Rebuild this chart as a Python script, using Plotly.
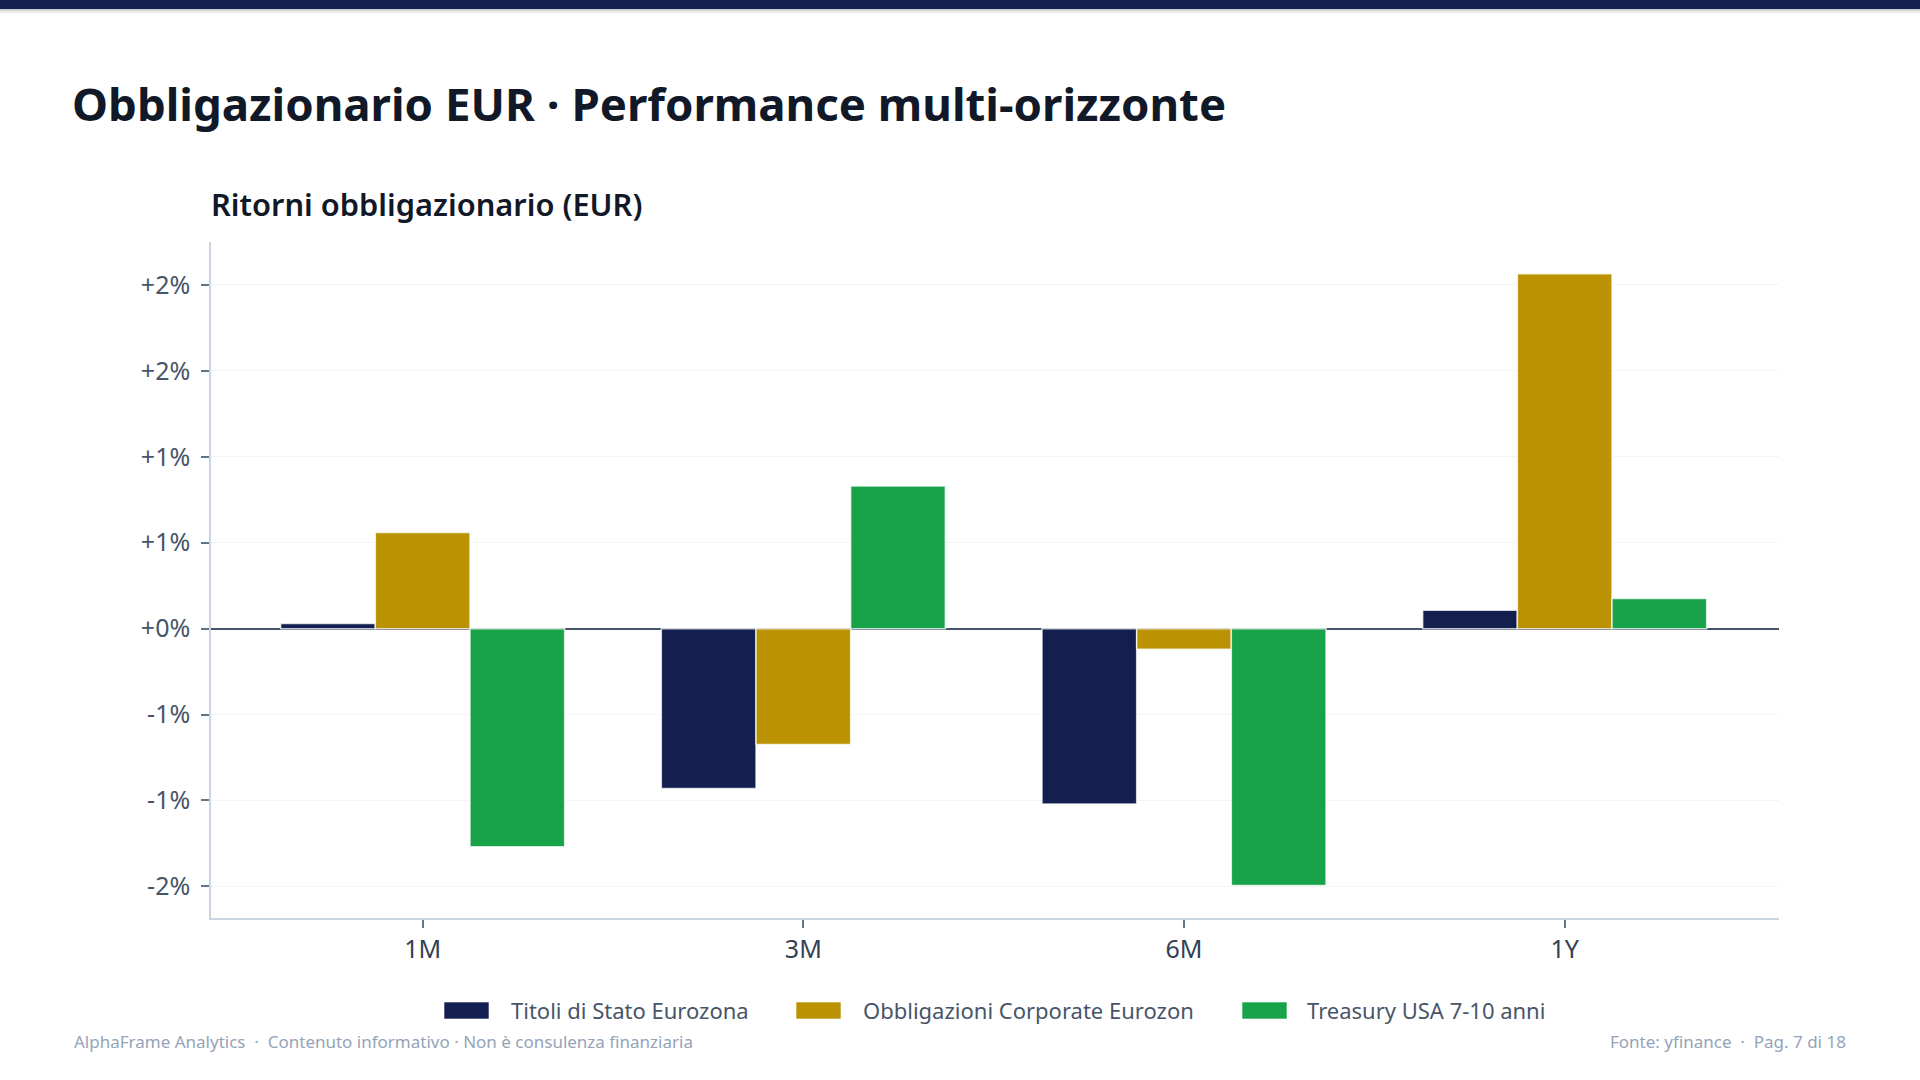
import plotly.graph_objects as go

# ---- data ----
horizons = ["1M", "3M", "6M", "1Y"]
series_names = ["Titoli di Stato Eurozona", "Obbligazioni Corporate Eurozon", "Treasury USA 7-10 anni"]
titoli_stato = [0.03, -0.93, -1.02, 0.107]
corporate = [0.56, -0.675, -0.12, 2.065]
treasury_usa = [-1.27, 0.83, -1.495, 0.176]
series_values = [titoli_stato, corporate, treasury_usa]
series_colors = ["#131F4F", "#BC9205", "#18A34A"]
tick_vals = [-1.5, -1.0, -0.5, 0.0, 0.5, 1.0, 1.5, 2.0]
tick_text = ["-2%", "-1%", "-1%", "+0%", "+1%", "+1%", "+2%", "+2%"]

W, H = 1920, 1080
ML, MR, MT, MB = 211, 141, 242, 162
PW, PH = W - ML - MR, H - MT - MB

def px(x):
    return (x - ML) / PW

def py(y):
    return (H - MB - y) / PH

FONT = "Segoe UI, Noto Sans, Open Sans, sans-serif"

fig = go.Figure()
for name, vals, col in zip(series_names, series_values, series_colors):
    fig.add_trace(go.Bar(
        x=horizons, y=vals, name=name,
        marker=dict(color=col, line=dict(color="rgba(255,255,255,0.75)", width=1.5)),
        showlegend=False,
    ))

shapes = [
    dict(type="rect", xref="paper", yref="paper", x0=px(0), x1=px(W), y0=py(0), y1=py(9),
         fillcolor="#131F4F", line=dict(width=0), layer="above"),
]
for i, op in enumerate([0.22, 0.15, 0.10, 0.06, 0.03]):
    shapes.append(dict(type="rect", xref="paper", yref="paper", x0=px(0), x1=px(W),
                       y0=py(9 + i), y1=py(10 + i), fillcolor=f"rgba(0,0,0,{op})",
                       line=dict(width=0), layer="above"))

annotations = [
    dict(text="<b>Obbligazionario EUR · Performance multi-orizzonte</b>", xref="paper", yref="paper",
         x=px(70), y=py(103), xanchor="left", yanchor="middle", showarrow=False,
         font=dict(family=FONT, size=45.6, color="#111827")),
    dict(text="Ritorni obbligazionario (EUR)", xref="paper", yref="paper",
         x=px(209), y=py(204), xanchor="left", yanchor="middle", showarrow=False,
         font=dict(family=FONT, size=30.8, color="#111827", weight=600)),
    dict(text="AlphaFrame Analytics  ·  Contenuto informativo · Non è consulenza finanziaria",
         xref="paper", yref="paper", x=px(72), y=py(1041), xanchor="left", yanchor="middle",
         showarrow=False, font=dict(family=FONT, size=17, color="#94A3B8")),
    dict(text="Fonte: yfinance  ·  Pag. 7 di 18", xref="paper", yref="paper",
         x=px(1848), y=py(1041), xanchor="right", yanchor="middle",
         showarrow=False, font=dict(family=FONT, size=17, color="#94A3B8")),
]

# manual legend
leg_rect_x = [444, 796, 1242]
leg_text_x = [509, 861, 1305]
for name, col, rx, tx in zip(series_names, series_colors, leg_rect_x, leg_text_x):
    shapes.append(dict(type="rect", xref="paper", yref="paper", x0=px(rx), x1=px(rx + 45),
                       y0=py(1019), y1=py(1002), fillcolor=col,
                       line=dict(color="rgba(255,255,255,0.6)", width=1)))
    annotations.append(dict(text=name, xref="paper", yref="paper", x=px(tx), y=py(1010),
                            xanchor="left", yanchor="middle", showarrow=False,
                            font=dict(family=FONT, size=22, color="#475569")))

fig.update_layout(
    width=W, height=H,
    margin=dict(l=ML, r=MR, t=MT, b=MB, autoexpand=False),
    paper_bgcolor="white", plot_bgcolor="white",
    barmode="group", bargap=0.254, bargroupgap=0.0,
    showlegend=False,
    shapes=shapes, annotations=annotations,
    font=dict(family=FONT),
)
fig.update_xaxes(
    range=[-0.556, 3.563],
    showline=True, linecolor="#CBD5E1", linewidth=1.5,
    ticks="outside", ticklen=8, tickcolor="#64748B", tickwidth=1.5,
    tickfont=dict(family=FONT, size=25, color="#334155"),
    showgrid=False,
)
fig.update_yaxes(
    range=[-1.684, 2.25],
    tickvals=tick_vals, ticktext=tick_text,
    showline=True, linecolor="#CBD5E1", linewidth=1.5,
    ticks="outside", ticklen=8, tickcolor="#64748B", tickwidth=1.5,
    ticklabelstandoff=6,
    tickfont=dict(family=FONT, size=25, color="#475569"),
    showgrid=True, gridcolor="#F3F4F6", gridwidth=1,
    zeroline=True, zerolinecolor="#475569", zerolinewidth=2,
)

fig.write_html("out.html")
